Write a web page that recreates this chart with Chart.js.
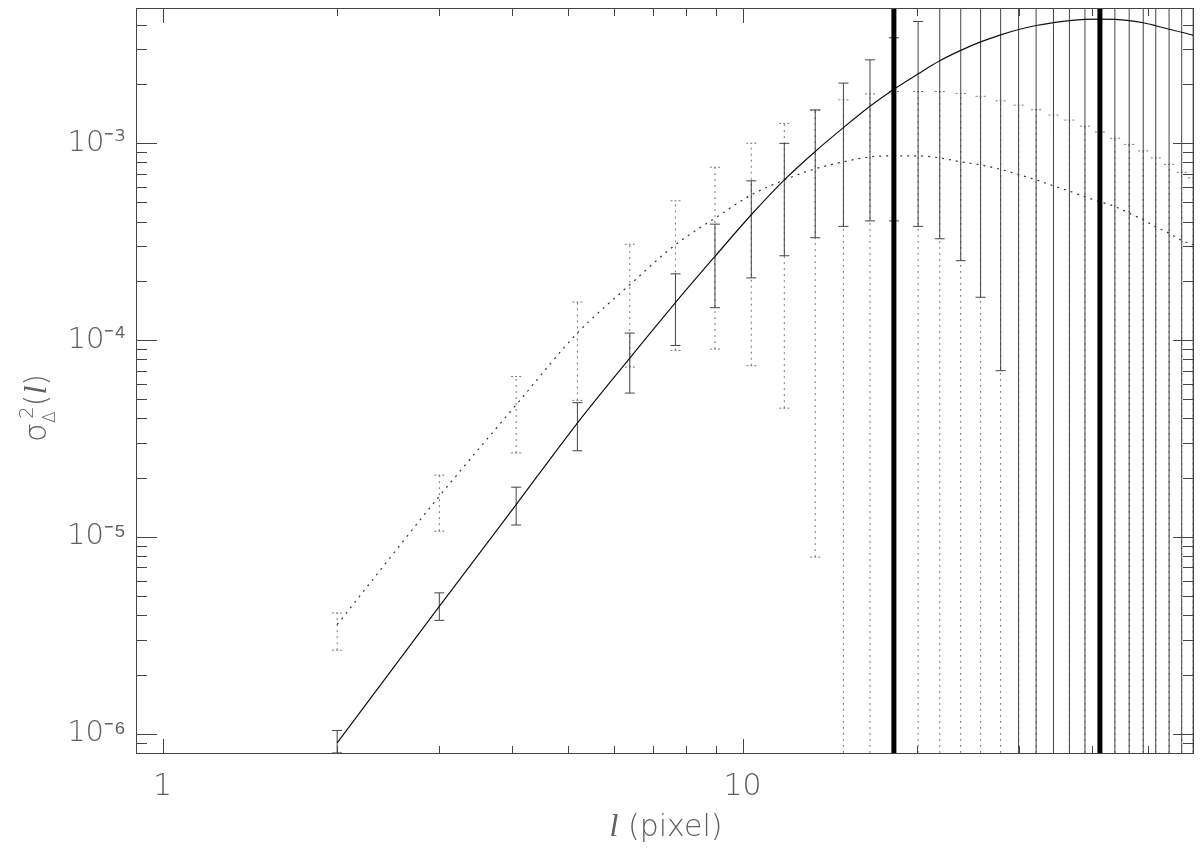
<!DOCTYPE html>
<html><head><meta charset="utf-8">
<script src="https://cdn.jsdelivr.net/npm/chart.js@4.4.0/dist/chart.umd.min.js"></script>
<style>html,body{margin:0;padding:0;background:#fff;}#wrap{width:1200px;height:848px;position:relative;}</style>
</head><body><div id="wrap"><canvas id="c" width="1200" height="848"></canvas></div>
<script>
// ---- data ----
const lValues = [2.0, 3.0, 4.07, 5.19, 6.39, 7.66, 8.96, 10.35, 11.8, 13.34, 14.92, 16.58, 18.23, 20.07, 21.87, 23.77, 25.72, 27.85, 29.91, 32.06, 34.35, 36.59, 38.92, 41.3, 43.83, 46.39, 49.05, 51.55, 54.35, 57.14, 59.8];
const solidValues = [9.0e-7, 4.44e-6, 1.46e-5, 3.79e-5, 8.10e-5, 1.55e-4, 2.66e-4, 4.33e-4, 6.51e-4, 9.08e-4, 1.20e-3, 1.54e-3, 1.88e-3, 2.25e-3, 2.62e-3, 2.96e-3, 3.27e-3, 3.55e-3, 3.78e-3, 3.96e-3, 4.10e-3, 4.19e-3, 4.25e-3, 4.27e-3, 4.25e-3, 4.19e-3, 4.09e-3, 3.95e-3, 3.79e-3, 3.66e-3, 3.53e-3];
const solidLow = [8.0e-7, 3.77e-6, 1.15e-5, 2.74e-5, 5.38e-5, 9.39e-5, 1.46e-4, 2.07e-4, 2.68e-4, 3.31e-4, 3.78e-4, 4.03e-4, 4.03e-4, 3.78e-4, 3.27e-4, 2.53e-4, 1.65e-4, 6.99e-5, null, null, null, null, null, null, null, null, null, null, null, null, null];
const solidHigh = [1.04e-6, 5.20e-6, 1.79e-5, 4.81e-5, 1.085e-4, 2.17e-4, 3.88e-4, 6.44e-4, 9.98e-4, 1.476e-3, 2.02e-3, 2.65e-3, 3.43e-3, 4.15e-3, null, null, null, null, null, null, null, null, null, null, null, null, null, null, null, null, null];
const dottedValues = [3.59e-6, 1.61e-5, 4.69e-5, 1.085e-4, 1.91e-4, 3.05e-4, 4.16e-4, 5.46e-4, 6.51e-4, 7.41e-4, 8.04e-4, 8.52e-4, 8.62e-4, 8.62e-4, 8.42e-4, 8.04e-4, 7.76e-4, 7.36e-4, 6.93e-4, 6.51e-4, 6.07e-4, 5.71e-4, 5.34e-4, 5.04e-4, 4.77e-4, 4.41e-4, 4.08e-4, 3.76e-4, 3.49e-4, 3.21e-4, 3.05e-4];
const dottedLow = [2.66e-6, 1.07e-5, 2.67e-5, 4.94e-5, 7.29e-5, 8.86e-5, 9.0e-5, 7.41e-5, 4.51e-5, 7.9e-6, null, null, null, null, null, null, null, null, null, null, null, null, null, null, null, null, null, null, null, null, null];
const dottedHigh = [4.11e-6, 2.06e-5, 6.53e-5, 1.56e-4, 3.07e-4, 5.10e-4, 7.55e-4, 1.00e-3, 1.26e-3, 1.47e-3, 1.66e-3, 1.78e-3, 1.83e-3, 1.83e-3, 1.83e-3, 1.79e-3, 1.73e-3, 1.64e-3, 1.56e-3, 1.48e-3, 1.39e-3, 1.31e-3, 1.22e-3, 1.14e-3, 1.06e-3, 9.86e-4, 9.14e-4, 8.42e-4, 7.81e-4, 7.11e-4, 6.67e-4];
const markerL = [18.23, 41.3];

const xRange = [0.9, 60];
const yRange = [7.9e-7, 4.86e-3];
const xMajorTicks = [1, 10];
const xTickLabels = ['1', '10'];
const xMinorTicks = [2, 3, 4, 5, 6, 7, 8, 9, 20, 30, 40, 50];
const yMajorTicks = [1e-6, 1e-5, 1e-4, 1e-3];
const yTickLabels = ['10\u207B\u2076', '10\u207B\u2075', '10\u207B\u2074', '10\u207B\u00B3'];
const yMinorTicks = [8e-7, 9e-7,
  2e-6, 3e-6, 4e-6, 5e-6, 6e-6, 7e-6, 8e-6, 9e-6,
  2e-5, 3e-5, 4e-5, 5e-5, 6e-5, 7e-5, 8e-5, 9e-5,
  2e-4, 3e-4, 4e-4, 5e-4, 6e-4, 7e-4, 8e-4, 9e-4,
  2e-3, 3e-3, 4e-3];

// ---- helpers ----
function barPoints(xs, lo, hi) {
  const pts = [];
  xs.forEach((x, i) => {
    pts.push({x: x, y: lo[i] != null ? lo[i] : yRange[0] / 10, cap: lo[i] != null});
    pts.push({x: x, y: hi[i] != null ? hi[i] : yRange[1] * 10, cap: hi[i] != null});
    pts.push({x: x, y: null, cap: false});
  });
  return pts;
}
function markerPoints(xs) {
  const pts = [];
  xs.forEach(x => { pts.push({x: x, y: yRange[0]}, {x: x, y: yRange[1]}, {x: x, y: null}); });
  return pts;
}
const capRadius = c => (c.raw && c.raw.cap) ? 5 : 0;
const TXT = '#606060';
const FONT = '"DejaVu Sans", sans-serif';
const ITAL = 'italic 32px "Liberation Serif", serif';

const dashCapsPlugin = {
  id: 'dashCaps',
  beforeDatasetDraw(chart, args) {
    if (chart.data.datasets[args.index].label === 'dotted errors') chart.ctx.setLineDash([2, 2]);
  },
  afterDatasetDraw(chart, args) {
    if (chart.data.datasets[args.index].label === 'dotted errors') chart.ctx.setLineDash([]);
  }
};

const framePlugin = {
  id: 'frame',
  afterDatasetsDraw(chart) {
    const {ctx, chartArea: a, scales: {x, y}} = chart;
    ctx.save();
    ctx.setLineDash([]);
    ctx.strokeStyle = '#444';
    ctx.lineWidth = 1;
    ctx.strokeRect(a.left + 0.5, a.top + 0.5, a.right - a.left - 1, a.bottom - a.top - 1);
    ctx.beginPath();
    const xt = (v, len) => {
      const p = Math.round(x.getPixelForValue(v)) + 0.5;
      ctx.moveTo(p, a.bottom); ctx.lineTo(p, a.bottom - len);
      ctx.moveTo(p, a.top); ctx.lineTo(p, a.top + len);
    };
    const yt = (v, len) => {
      const p = Math.round(y.getPixelForValue(v)) + 0.5;
      ctx.moveTo(a.left, p); ctx.lineTo(a.left + len, p);
      ctx.moveTo(a.right, p); ctx.lineTo(a.right - len, p);
    };
    xMajorTicks.forEach(v => xt(v, 15));
    xMinorTicks.forEach(v => xt(v, 8));
    yMajorTicks.forEach(v => yt(v, 21));
    yMinorTicks.forEach(v => yt(v, 11));
    ctx.stroke();
    ctx.restore();
  },
  afterDraw(chart) {
    const {ctx} = chart;
    ctx.save();
    ctx.fillStyle = TXT;
    // x axis title
    ctx.textBaseline = 'alphabetic';
    ctx.textAlign = 'left';
    ctx.font = ITAL;
    const p1 = 'l', p2 = ' (pixel)';
    const w1 = ctx.measureText(p1).width;
    ctx.font = '200 30px ' + FONT;
    const w2 = ctx.measureText(p2).width;
    let sx = 666 - (w1 + w2) / 2;
    ctx.font = ITAL;
    ctx.fillText(p1, sx, 836);
    ctx.font = '200 30px ' + FONT;
    ctx.fillText(p2, sx + w1, 836);
    // y axis title (rotated)
    ctx.translate(46, 408);
    ctx.rotate(-Math.PI / 2);
    const parts = [
      {t: '\u03C3', f: '200 30px ' + FONT, dy: 0},
      {t: '\u0394', f: '200 17px ' + FONT, dy: 9},
      {t: '2', f: '200 20px ' + FONT, dy: -13, back: true},
      {t: '(', f: '200 30px ' + FONT, dy: 0},
      {t: 'l', f: ITAL, dy: 0},
      {t: ')', f: '200 30px ' + FONT, dy: 0}
    ];
    let total = 0;
    parts.forEach(p => { ctx.font = p.f; p.w = ctx.measureText(p.t).width; total += p.back ? p.w * 0.4 : p.w; });
    let cx = -total / 2;
    parts.forEach(p => {
      ctx.font = p.f;
      let px = p.back ? cx - p.w * 0.6 : cx;
      ctx.fillText(p.t, px, p.dy);
      cx = px + p.w;
    });
    ctx.restore();
  }
};

new Chart(document.getElementById('c'), {
  type: 'line',
  data: {
    datasets: [
      {label: 'markers', data: markerPoints(markerL), borderColor: '#000', borderWidth: 5, pointRadius: 0, spanGaps: false, clip: 0},
      {label: 'solid', data: lValues.map((x, i) => ({x: x, y: solidValues[i]})), borderColor: '#111', borderWidth: 1.2, pointRadius: 0, cubicInterpolationMode: 'monotone'},
      {label: 'dotted', data: lValues.map((x, i) => ({x: x, y: dottedValues[i]})), borderColor: '#333', borderWidth: 1.2, borderDash: [2, 5], pointRadius: 0, cubicInterpolationMode: 'monotone'},
      {label: 'solid errors', data: barPoints(lValues, solidLow, solidHigh), borderColor: '#444', borderWidth: 1, spanGaps: false,
        pointStyle: 'line', pointRadius: capRadius, pointBorderColor: '#444', pointBorderWidth: 1},
      {label: 'dotted errors', data: barPoints(lValues, dottedLow, dottedHigh), borderColor: '#777', borderWidth: 1, borderDash: [2, 4], spanGaps: false,
        pointStyle: 'line', pointRadius: capRadius, pointBorderColor: '#777', pointBorderWidth: 1}
    ]
  },
  options: {
    responsive: false,
    animation: false,
    events: [],
    layout: {padding: {top: 8, right: 3, left: 0, bottom: 0}},
    plugins: {legend: {display: false}, tooltip: {enabled: false}},
    scales: {
      x: {
        type: 'logarithmic', min: xRange[0], max: xRange[1],
        grid: {display: false, drawTicks: false}, border: {display: false},
        afterBuildTicks: s => { s.ticks = xMajorTicks.map(v => ({value: v})); },
        afterFit: s => { s.height = 94; s.paddingLeft = 0; s.paddingRight = 0; s.paddingTop = 0; s.paddingBottom = 0; },
        ticks: {autoSkip: false, maxRotation: 0, padding: 15, color: TXT, font: {family: FONT, size: 30, weight: 200},
          callback: v => { const i = xMajorTicks.indexOf(v); return i >= 0 ? xTickLabels[i] : ''; }}
      },
      y: {
        type: 'logarithmic', min: yRange[0], max: yRange[1],
        grid: {display: false, drawTicks: false}, border: {display: false},
        afterBuildTicks: s => { s.ticks = yMajorTicks.map(v => ({value: v})); },
        afterFit: s => { s.width = 136; s.paddingTop = 0; s.paddingBottom = 0; s.paddingLeft = 0; s.paddingRight = 0; },
        ticks: {autoSkip: false, padding: 10, color: TXT, font: {family: FONT, size: 29, weight: 200},
          callback: v => { const i = yMajorTicks.findIndex(t => Math.abs(t - v) / t < 1e-6); return i >= 0 ? yTickLabels[i] : ''; }}
      }
    }
  },
  plugins: [dashCapsPlugin, framePlugin]
});
</script></body></html>
